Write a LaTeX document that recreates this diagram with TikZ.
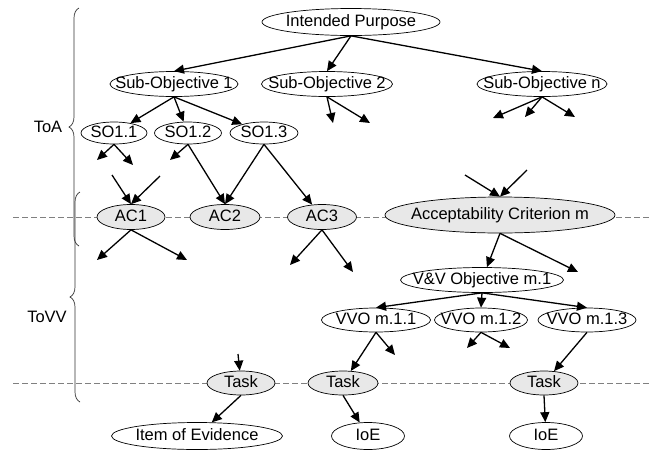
\documentclass[tikz,border=0pt]{standalone}
\usepackage{fontspec}
\setmainfont{Liberation Sans}
\usetikzlibrary{shapes.geometric,arrows.meta,decorations.pathreplacing}
\tikzset{
  oval/.style={ellipse, draw=black, fill=white, line width=0.7pt, inner sep=0pt,
    text height=12pt, text depth=3.5pt,
    execute at begin node={\hbox to 0pt\bgroup\hss},
    execute at end node={\hss\egroup}},
  crit/.style={oval, fill=gray!18},
  arr/.style={draw=black, line width=1.3pt, -{Triangle[length=10pt,width=9pt]}},
  level/.style={draw=gray, line width=0.8pt, dash pattern=on 6pt off 3pt},
  brc/.style={draw=black!80, line width=0.7pt, decorate, decoration={brace, amplitude=10pt}}
}
\begin{document}
\begin{tikzpicture}[x=1pt, y=-1pt, font=\fontsize{16.5}{18}\selectfont]
\useasboundingbox (0,0) rectangle (649,451);

% levels
\draw[level] (13,217) -- (649,217);
\draw[level] (13,383) -- (649,383);
\draw[brc] (79,246) -- (79,8);
\draw[brc] (80,402) -- (80,192);
\node (toa) at (48,127) {ToA};
\node (tovv) at (47,317) {ToVV};

% objectives
\node[oval, minimum width=178pt, minimum height=27pt] (ip) at (351,22) {Intended Purpose};
\node[oval, minimum width=128pt, minimum height=25pt] (so1) at (174,84) {Sub-Objective 1};
\node[oval, minimum width=131pt, minimum height=25pt] (so2) at (327,84) {Sub-Objective 2};
\node[oval, minimum width=130pt, minimum height=25pt] (son) at (542,84) {Sub-Objective n};
\foreach[count=\i] \x/\w in {114/66,188/67,264/68}
  \node[oval, minimum width=\w pt, minimum height=22pt] (so1\i) at (\x,133) {SO1.\i};

% criteria
\foreach[count=\i] \x/\w in {131/68,225/70,322/69}
  \node[crit, minimum width=\w pt, minimum height=25pt] (ac\i) at (\x,217) {AC\i};
\node[crit, minimum width=230pt, minimum height=36pt] (acm) at (500,215) {Acceptability Criterion m};

% V&V objectives
\node[oval, minimum width=163pt, minimum height=25pt] (vv1) at (482,280) {V\&V Objective m.1};
\foreach[count=\i] \x/\w in {376/109,481/93,587/98}
  \node[oval, minimum width=\w pt, minimum height=24pt] (vvo\i) at (\x,320) {VVO m.1.\i};

% tasks and evidence
\foreach[count=\i] \x/\w in {241/68,343/70,544/68}
  \node[crit, minimum width=\w pt, minimum height=24pt] (task\i) at (\x,383) {Task};
\node[oval, minimum width=171pt, minimum height=27pt] (ioe1) at (197,436) {Item of Evidence};
\node[oval, minimum width=73pt, minimum height=27pt] (ioe2) at (368,436) {IoE};
\node[oval, minimum width=73pt, minimum height=27pt] (ioe3) at (546,436) {IoE};

% loose ends
\coordinate (so2a) at (333,123);
\coordinate (so2b) at (370,123);
\coordinate (sona) at (493,118);
\coordinate (sonb) at (525,117);
\coordinate (sonc) at (575,117);
\coordinate (so11a) at (97,160);
\coordinate (so11b) at (133,165);
\coordinate (so12a) at (170,160);
\coordinate (ac1a) at (112,175);
\coordinate (ac1b) at (160,176);
\coordinate (acma) at (465,175);
\coordinate (acmb) at (527,170);
\coordinate (ac1c) at (97,260);
\coordinate (ac1d) at (187,260);
\coordinate (ac3a) at (290,265);
\coordinate (ac3b) at (353,272);
\coordinate (acmc) at (578,272);
\coordinate (vvo1a) at (395,355);
\coordinate (vvo2a) at (467,348);
\coordinate (vvo2b) at (510,348);
\coordinate (task1a) at (238,354);

% edges
\foreach \t in {so1,so2,son} \draw[arr] (ip.south) -- (\t.north);
\foreach \t in {so11,so12,so13} \draw[arr] (so1.south) -- (\t);
\foreach \t in {so2a,so2b} \draw[arr] (so2.south) -- (\t);
\foreach \t in {sona,sonb,sonc} \draw[arr] (son.south) -- (\t);
\foreach \t in {so11a,so11b} \draw[arr] (so11.south) -- (\t);
\draw[arr] (so12.south) -- (so12a);
\draw[arr] (so12.south) -- (ac2.north);
\draw[arr] (so13.south) -- (ac2.north);
\draw[arr] (so13.south) -- (ac3);
\foreach \s in {ac1a,ac1b} \draw[arr] (\s) -- (ac1.north);
\foreach \s in {acma,acmb} \draw[arr] (\s) -- (acm.north);
\foreach \t in {ac1c,ac1d} \draw[arr] (ac1.south) -- (\t);
\foreach \t in {ac3a,ac3b} \draw[arr] (ac3.south) -- (\t);
\draw[arr] (acm.south) -- (vv1);
\draw[arr] (acm.south) -- (acmc);
\foreach \t in {vvo1,vvo2,vvo3} \draw[arr] (vv1.south) -- (\t.north);
\draw[arr] (vvo1.south) -- (task2);
\draw[arr] (vvo1.south) -- (vvo1a);
\foreach \t in {vvo2a,vvo2b} \draw[arr] (vvo2.south) -- (\t);
\draw[arr] (vvo3.south) -- (task3);
\draw[arr] (task1a) -- (task1);
\foreach \i in {1,2,3} \draw[arr] (task\i.south) -- (ioe\i);

\end{tikzpicture}
\end{document}
